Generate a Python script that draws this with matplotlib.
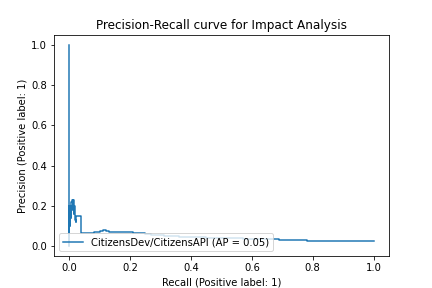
import matplotlib
matplotlib.use("Agg")
import matplotlib.pyplot as plt

# recall / precision points (ascending recall)
recall = [0.0, 0.0, 0.002, 0.004, 0.005, 0.007, 0.009, 0.011, 0.013, 0.015,
          0.017, 0.019, 0.021, 0.023, 0.026, 0.030, 0.034, 0.038, 0.042, 0.06,
          0.08, 0.10, 0.11, 0.12, 0.13, 0.14, 0.15, 0.17, 0.19, 0.21,
          0.23, 0.25, 0.27, 0.29, 0.31, 0.33, 0.36, 0.39, 0.42, 0.45,
          0.48, 0.51, 0.54, 0.57, 0.60, 0.63, 0.66, 0.69, 0.72, 0.75,
          0.78, 0.82, 0.86, 0.90, 0.94, 0.97, 1.0]
precision = [1.0, 0.0, 0.20, 0.10, 0.20, 0.14, 0.22, 0.23, 0.18, 0.23,
             0.16, 0.20, 0.13, 0.12, 0.15, 0.15, 0.15, 0.15, 0.068, 0.066,
             0.068, 0.072, 0.075, 0.08, 0.076, 0.073, 0.072, 0.071, 0.072, 0.070,
             0.068, 0.064, 0.061, 0.058, 0.056, 0.053, 0.050, 0.048, 0.046, 0.044,
             0.042, 0.041, 0.040, 0.039, 0.038, 0.037, 0.036, 0.035, 0.031, 0.030,
             0.029, 0.028, 0.027, 0.026, 0.026, 0.025, 0.025]
repo_name = "CitizensDev/CitizensAPI"
avg_precision = 0.05

fig, ax = plt.subplots(figsize=(6, 4), dpi=72)

# plotted like sklearn's PrecisionRecallDisplay: descending recall, steps-post
ax.plot(recall[::-1], precision[::-1], drawstyle="steps-post",
        label=f"{repo_name} (AP = {avg_precision:0.2f})")

ax.set_title("Precision-Recall curve for Impact Analysis")
ax.set_xlabel("Recall (Positive label: 1)")
ax.set_ylabel("Precision (Positive label: 1)")
ax.legend(loc="lower left")

fig.savefig("out.png")
